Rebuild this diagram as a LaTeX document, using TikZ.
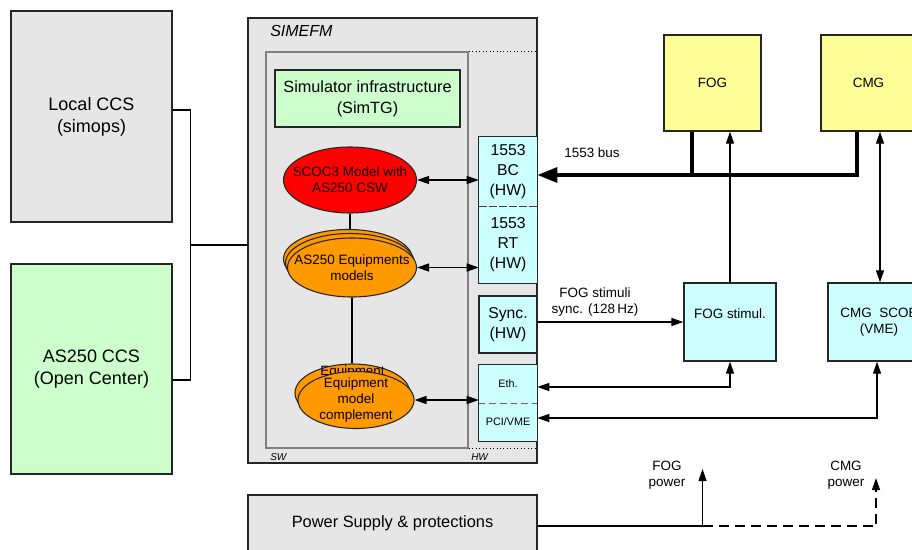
\documentclass[tikz,border=0pt]{standalone}
\usepackage{fontspec}
\setmainfont{Liberation Sans}
\usetikzlibrary{arrows.meta,shapes.geometric}
\definecolor{cgrey}{HTML}{E6E6E6}
\definecolor{cgreen}{HTML}{CCFFCC}
\definecolor{ccyan}{HTML}{CCFFFF}
\definecolor{cyellow}{HTML}{FFFF99}
\definecolor{corange}{HTML}{FF9900}
\newcommand{\fL}{\fontsize{13.5}{16.5}\selectfont}
\newcommand{\fM}{\fontsize{12.2}{15.5}\selectfont}
\newcommand{\fE}{\fontsize{10.1}{12}\selectfont}
\newcommand{\fH}{\fontsize{11.8}{15}\selectfont}
\newcommand{\fX}{\fontsize{8.1}{10}\selectfont}
\newcommand{\fP}{\fontsize{12.3}{15}\selectfont}
\newcommand{\fS}{\fontsize{12}{14}\selectfont}
\newcommand{\fT}{\fontsize{7.5}{9}\selectfont}
\begin{document}
\begin{tikzpicture}[x=0.75pt,y=-0.75pt,
  wh/.style 2 args={minimum width=#1*0.75pt,minimum height=#2*0.75pt},
  box/.style={draw=black!85,line width=1pt,inner sep=0pt,align=center},
  cell/.style={inner sep=0pt,align=center,fill=ccyan},
  ell/.style={ellipse,draw=black!85,line width=0.8pt,inner sep=0pt},
  etxt/.style={font=\fE,align=center,inner sep=0pt},
  con/.style={line width=1pt},
  arr/.style={con,-{Triangle[length=9pt,width=6pt]}},
  dbl/.style={con,{Triangle[length=9pt,width=6pt]}-{Triangle[length=9pt,width=6pt]}},
  bus/.style={line width=3pt,line join=miter}]
\useasboundingbox (0,0) rectangle (912,549);
\clip (0,0) rectangle (912,549);

% left boxes
\node[box,fill=cgrey,wh={161}{211},font=\fL] (lccs) at (91.5,116.5) {Local CCS\\(simops)};
\node[box,fill=cgreen,wh={161}{210},font=\fL] (accs) at (91.5,369) {AS250 CCS\\(Open Center)};

% SIMEFM
\node[box,fill=cgrey,wh={289}{445}] (simefm) at (392.5,240.5) {};
\node[font=\fS\itshape,anchor=west,inner sep=0pt] (simlbl) at (270,30.5) {SIMEFM};
\node[draw=black!50,line width=1.2pt,fill=cgrey,wh={202}{396},inner sep=0pt] (sw) at (367,250) {};
\draw[dotted,line width=0.6pt] (sw.north east) -- (simefm.east |- sw.north east);
\draw[dotted,line width=0.6pt] (sw.south east) -- (simefm.east |- sw.south east);
\node[font=\fT\itshape,anchor=west,inner sep=0pt] (swl) at (270,457) {SW};
\node[font=\fT\itshape,anchor=west,inner sep=0pt] (hwl) at (471,457) {HW};

\node[box,fill=cgreen,wh={185}{57},font=\fM] (simi) at (367.5,98.5) {Simulator infrastructure\\(SimTG)};

% ellipses
\node[ell,fill=red,wh={133}{66},label={[etxt]center:SCOC3 Model with\\AS250 CSW}] (scoc) at (350,180) {};
\node[ell,fill=corange,wh={129}{59}] (eqb) at (348,259) {};
\node[ell,fill=corange,wh={129}{59}] (eqm) at (350,263) {};
\node[ell,fill=corange,wh={129}{59},label={[etxt]center:AS250 Equipments\\models}] (eqf) at (352,267.5) {};
\node[ell,fill=corange,wh={115}{58},
  label={[etxt,yshift=3.75pt]center:Equipment\\model\\complement}] (cpb) at (352.5,393) {};
\node[ell,fill=corange,wh={116}{57},label={[etxt]center:Equipment\\model\\complement}] (cpf) at (356,400) {};
\draw[con] (scoc.south) -- (scoc.south |- eqb.north);
\draw[con] (eqf.south) -- (eqf.south |- cpb.north);

% HW cells
\node[cell,wh={58}{69},font=\fH] (bc) at (508,171.5) {1553\\BC\\(HW)};
\node[cell,wh={58}{77},font=\fH] (rt) at (508,244.5) {1553\\RT\\(HW)};
\draw[line width=1pt,draw=black!85] (bc.north west) rectangle (rt.south east);
\draw[white,line width=1pt] (bc.south west) -- (bc.south east);
\draw[black!75,line width=1pt,dash pattern=on 6pt off 1.5pt] (bc.south west) -- (bc.south east);

\node[box,fill=ccyan,wh={58}{57},font=\fH] (sync) at (508,324.5) {Sync.\\(HW)};

\node[cell,wh={58}{38},font=\fX] (eth) at (508,384) {Eth.};
\node[cell,wh={58}{38},font=\fX] (pci) at (508,422) {PCI/VME};
\draw[line width=1pt,draw=black!85] (eth.north west) rectangle (pci.south east);
\draw[black!60,line width=1pt,dash pattern=on 5pt off 3pt] (eth.south west) -- (eth.south east);

% right side
\node[box,fill=cyellow,wh={97}{96},font=\fE] (fog) at (712.5,83) {FOG};
\node[box,fill=cyellow,wh={95}{96},font=\fE] (cmg) at (868.5,83) {CMG};
\node[box,fill=ccyan,wh={92}{78},font=\fE] (fogstim) at (730,322) {FOG stimul.\\\mbox{}};
\node[box,fill=ccyan,wh={102}{78},font=\fE] (scoe) at (879,322) {CMG\ \ SCOE\\(VME)};

\node[box,fill=cgrey,wh={289}{56},font=\fP] (pwr) at (392.5,523) {Power Supply \& protections};

% labels
\node[font=\fE] (buslbl) at (592,153) {1553 bus};
\node[font=\fE,align=center] (synclbl) at (595,302) {FOG stimuli\\sync. (128\,Hz)};
\node[font=\fE,align=center] (fogpl) at (667,475.5) {FOG\\power};
\node[font=\fE,align=center] (cmgpl) at (846,475.5) {CMG\\power};

% left connectors
\coordinate (j) at (190.5,245);
\draw[con] (lccs.east |- 0,110) -| (j) |- (accs.east |- 0,380);
\draw[con] (j) -- (simefm.west |- j);

% SW <-> HW
\draw[dbl] (scoc.east) -- (bc.west |- scoc.east);
\draw[dbl] (eqf.east) -- (rt.west |- eqf.east);
\draw[dbl] (cpf.east) -- (eth.west |- cpf.east);

% bus
\draw[bus,-{Triangle[length=15pt,width=11pt]}] (cmg.south -| 857,0) -- (857,175) -- (bc.east |- 0,175);
\draw[bus] (fog.south -| 692,0) -- (692,175);

\draw[arr] (fogstim.north) -- (fogstim.north |- fog.south);
\draw[dbl] (cmg.south -| 880,0) -- (scoe.north -| 880,0);
\draw[arr] (sync.east |- fogstim.west) -- (fogstim.west);
\draw[dbl] (fogstim.south) |- (eth.east |- 0,387);
\draw[dbl] (scoe.south -| 877,0) |- (pci.east |- 0,418);

% power
\coordinate (fogp) at (702.5,469);
\coordinate (cmgp) at (876,478);
\draw[arr] (pwr.east |- 0,526) -| (fogp);
\draw[arr,dash pattern=on 7.5pt off 4.5pt] (fogp |- 0,526) -| (cmgp);
\end{tikzpicture}
\end{document}
